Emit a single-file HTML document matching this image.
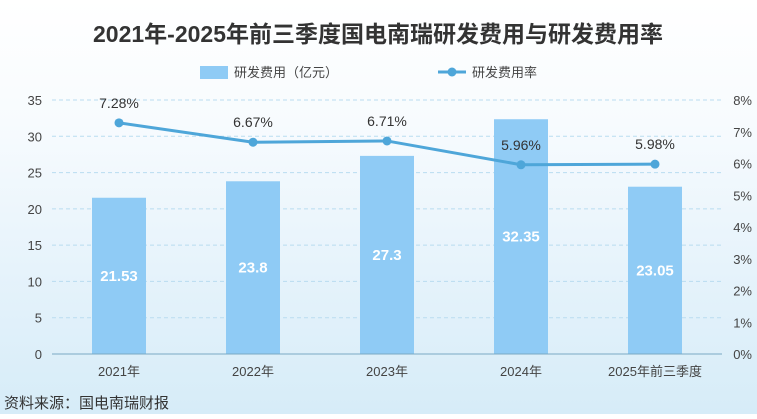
<!DOCTYPE html>
<html><head><meta charset="utf-8"><style>
html,body{margin:0;padding:0}
body{width:757px;height:414px;overflow:hidden;background:linear-gradient(180deg,#ffffff 0%,#f7fbfe 30%,#e6f3fb 65%,#d6ecf8 100%);font-family:"Liberation Sans","Noto Sans CJK SC",sans-serif}
</style></head><body>
<svg id="chart" width="757" height="414" xmlns="http://www.w3.org/2000/svg" font-family="Liberation Sans, Noto Sans CJK SC, sans-serif">
<text x="378" y="42" text-anchor="middle" font-size="23" font-weight="bold" fill="#333">2021年-2025年前三季度国电南瑞研发费用与研发费用率</text>
<g>
<rect x="200" y="66" width="28" height="13" fill="#8fcbf5"/>
<text x="234" y="77" font-size="13" fill="#444">研发费用（亿元）</text>
<line x1="438" y1="72" x2="466" y2="72" stroke="#4ea6d9" stroke-width="3"/>
<circle cx="452" cy="72" r="4.5" fill="#4ea6d9"/>
<text x="472" y="77" font-size="13" fill="#444">研发费用率</text>
</g>
<g id="grid"></g><g id="bars"></g><g id="line"></g><g id="axes"></g>
<text x="4" y="408" font-size="15" fill="#333">资料来源：国电南瑞财报</text>
</svg>
<script>
const categories=["2021年","2022年","2023年","2024年","2025年前三季度"];
const rdExpense=[21.53,23.8,27.3,32.35,23.05];
const rdRate=[7.28,6.67,6.71,5.96,5.98];
const leftTicks=[0,5,10,15,20,25,30,35];
const rightTicks=[0,1,2,3,4,5,6,7,8];
const NS="http://www.w3.org/2000/svg";
const X0=52,X1=722,Y0=354,Y1=100;
const band=(X1-X0)/categories.length;
const xc=i=>X0+band*(i+0.5);
const yL=v=>Y0-v/35*(Y0-Y1);
const yR=v=>Y0-v/8*(Y0-Y1);
function mk(tag,attrs,parent,text){const e=document.createElementNS(NS,tag);for(const k in attrs)e.setAttribute(k,attrs[k]);if(text!==undefined)e.textContent=text;document.getElementById(parent).appendChild(e);return e;}
leftTicks.forEach(t=>{
 const y=yL(t);
 if(t>0){const g=mk('line',{x1:X0,x2:X1,y1:y,y2:y,stroke:'#b9dcf0','stroke-dasharray':'4,3'},'grid');
 
 }
 const l=mk('text',{x:42,y:y+5,'text-anchor':'end','font-size':13,fill:'#444'},'axes',t);
 
 
});
rightTicks.forEach(t=>{
 const l=mk('text',{x:752,y:yR(t)+5,'text-anchor':'end','font-size':13,fill:'#444'},'axes',t+'%');
 
 
});
const ax=mk('line',{x1:X0,x2:X1,y1:Y0,y2:Y0,stroke:'#7aa8c4'},'axes');


categories.forEach((c,i)=>{
 const l=mk('text',{x:xc(i),y:376,'text-anchor':'middle','font-size':13,fill:'#444'},'axes',c);
 
 
 const v=rdExpense[i],bw=54;
 const b=mk('rect',{x:xc(i)-bw/2,y:yL(v),width:bw,height:Y0-yL(v),fill:'#8fcbf5'},'bars');
 
 
 const bl=mk('text',{x:xc(i),y:(yL(v)+Y0)/2+5,'text-anchor':'middle','font-size':15,'font-weight':'bold',fill:'#fff'},'bars',v);
 
 
});
const pts=rdRate.map((v,i)=>xc(i)+','+yR(v)).join(' ');
const pl=mk('polyline',{points:pts,fill:'none',stroke:'#4ea6d9','stroke-width':3},'line');


rdRate.forEach((v,i)=>{
 const p=mk('circle',{cx:xc(i),cy:yR(v),r:4.5,fill:'#4ea6d9'},'line');
 
 
 const t=mk('text',{x:xc(i),y:yR(v)-15,'text-anchor':'middle','font-size':14,fill:'#333'},'line',v.toFixed(2)+'%');
 
 
});
</script>
</body></html>
